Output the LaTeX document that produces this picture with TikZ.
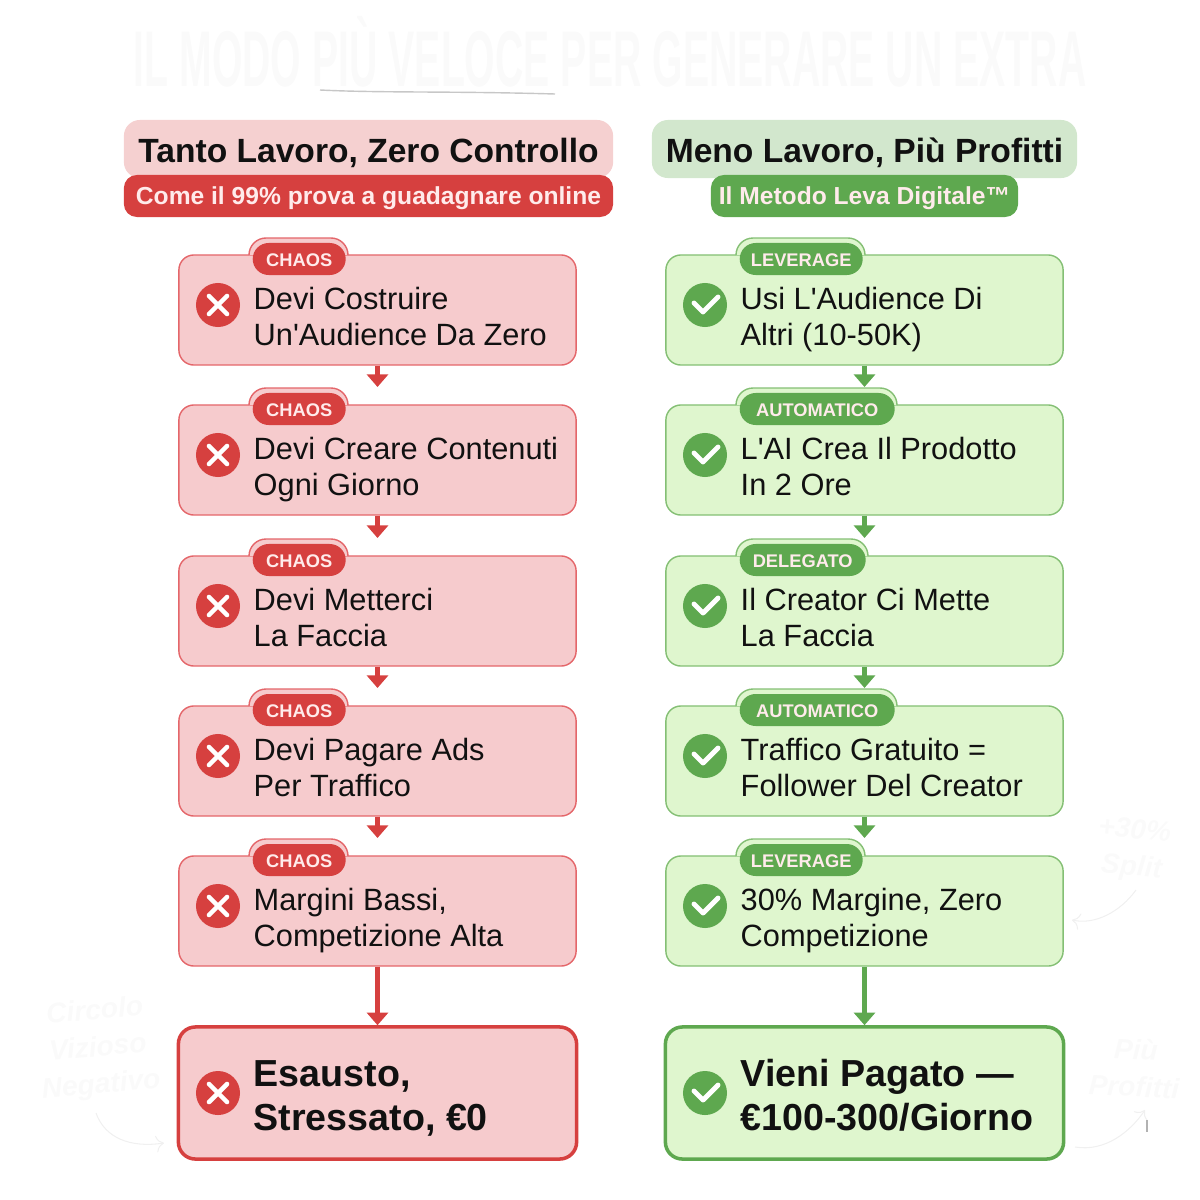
\documentclass[tikz,border=0pt]{standalone}
\usepackage{fontspec}
\setmainfont{Liberation Sans}
\usetikzlibrary{calc, arrows.meta}

\definecolor{redstrong}{HTML}{D6403F}
\definecolor{redline}{HTML}{E4666A}
\definecolor{redfill}{HTML}{F6CBCD}
\definecolor{redhead}{HTML}{F5D0D0}
\definecolor{greenstrong}{HTML}{5EA84F}
\definecolor{greenline}{HTML}{84BF74}
\definecolor{greenfill}{HTML}{DFF6CE}
\definecolor{greenhead}{HTML}{D2E7CD}
\definecolor{ink}{HTML}{111111}

\tikzset{
  cardbox/.style={rectangle, rounded corners=0.15cm, minimum width=3.97cm, minimum height=1.10cm, line width=0.4pt},
  endbox/.style={rectangle, rounded corners=0.17cm, minimum width=3.98cm, minimum height=1.32cm, line width=1pt},
  tagpill/.style={rectangle, rounded corners=0.16cm, minimum height=0.32cm, inner sep=0pt, text height=4.7pt, text depth=0.7pt, font=\fontsize{5.2}{6}\selectfont\bfseries, text=white!92!red},
  steptext/.style={anchor=west, align=left, inner sep=0pt, text=ink, font=\fontsize{8.75}{10.25}\selectfont},
  endtext/.style={anchor=west, align=left, inner sep=0pt, text=ink, font=\fontsize{10.7}{12.5}\selectfont\bfseries},
  headbar/.style={rectangle, rounded corners=0.16cm, minimum height=0.58cm, inner sep=0pt, text height=9.5pt, text depth=2.1pt, text=ink, font=\fontsize{9.55}{10}\selectfont\bfseries},
  subbar/.style={rectangle, rounded corners=0.13cm, minimum height=0.42cm, inner sep=0pt, text height=6pt, text depth=1.4pt, text=white!92!red, font=\fontsize{7}{7.5}\selectfont\bfseries},
  crossicon/.style={circle, minimum size=0.44cm, inner sep=0pt, fill=redstrong, path picture={
    \draw[white, line width=1.3pt, line cap=round] (path picture bounding box.center) ++(-9,-9) -- ++(18,18) ++(-18,0) -- ++(18,-18);}},
  checkicon/.style={circle, minimum size=0.44cm, inner sep=0pt, fill=greenstrong, path picture={
    \draw[white, line width=1.4pt, line cap=round, line join=round] (path picture bounding box.center) ++(-11,-2) -- ++(9,9) -- ++(15,-15);}},
  stepflow/.style={line width=1.3pt, -{Triangle[width=6pt, length=3.6pt]}},
  ghost/.style={text=black!2, font=\fontsize{8}{10.5}\selectfont\bfseries\itshape, align=center},
  ghostline/.style={black!6, line width=0.3pt}
}

% #1 colour, #2 name, #3 #4 top left of the card, #5 tag, #6 tag width, #7 icon, #8 text
\newcommand{\stepcard}[8]{
  \node[cardbox, draw=#1line, fill=#1fill] (#2) at (#3+198.5,#4+55) {};
  \draw[draw=#1line, fill=#1fill, line width=0.4pt, rounded corners=0.17cm] (#3+70,#4) -- (#3+70,#4-17) -- (#3+#6+76,#4-17) -- (#3+#6+76,#4);
  \node[tagpill, fill=#1strong, minimum width=#6*0.01cm, anchor=west] (#2tag) at (#3+73,#4+4) {#5};
  \node[#7] (#2icon) at (#3+39,#4+50) {};
  \node[steptext] (#2text) at (#3+74,#4+65) {\strut #8\strut};
  \coordinate (#2tip) at (#3+198.5,#4-18);
}

\begin{document}
\begin{tikzpicture}[x=0.01cm, y=-0.01cm]
  \useasboundingbox (0,0) rectangle (1200,1200);

  % faint title
  \node[text=black!2, inner sep=0pt, font=\fontsize{18}{18}\selectfont\bfseries] (title) at (610,52) {\scalebox{0.62}[1.25]{IL MODO PIÙ VELOCE PER GENERARE UN EXTRA}};
  \draw[black!22, line width=0.4pt] (320,90) .. controls (380,93) and (450,91) .. (555,94);

  % left column
  \node[headbar, fill=redhead, minimum width=4.89cm] (redtitle) at (368.5,149) {Tanto Lavoro, Zero Controllo};
  \node[subbar, fill=redstrong, minimum width=4.89cm] (redsub) at (368.5,196) {Come il 99\% prova a guadagnare online};
  \stepcard{red}{r1}{179}{255}{CHAOS}{93}{crossicon}{Devi Costruire\\Un\textquotesingle Audience Da Zero}
  \stepcard{red}{r2}{179}{405}{CHAOS}{93}{crossicon}{Devi Creare Contenuti\\Ogni Giorno}
  \stepcard{red}{r3}{179}{556}{CHAOS}{93}{crossicon}{Devi Metterci\\La Faccia}
  \stepcard{red}{r4}{179}{706}{CHAOS}{93}{crossicon}{Devi Pagare Ads\\Per Traffico}
  \stepcard{red}{r5}{179}{856}{CHAOS}{93}{crossicon}{Margini Bassi,\\Competizione Alta}
  \node[endbox, draw=redstrong, fill=redfill] (r6) at (377.5,1093) {};
  \node[crossicon] (r6icon) at (218,1093) {};
  \node[endtext] (r6text) at (253,1100) {\strut Esausto,\\Stressato, €0\strut};
  \draw[stepflow, redstrong] (r1.south) -- (r2tip);
  \draw[stepflow, redstrong] (r2.south) -- (r3tip);
  \draw[stepflow, redstrong] (r3.south) -- (r4tip);
  \draw[stepflow, redstrong] (r4.south) -- (r5tip);
  \draw[stepflow, redstrong] (r5.south) -- (r6.north);

  % right column
  \node[headbar, fill=greenhead, minimum width=4.25cm] (greentitle) at (864.5,149) {Meno Lavoro, Più Profitti};
  \node[subbar, fill=greenstrong, minimum width=3.07cm] (greensub) at (864.5,196) {Il Metodo Leva Digitale™};
  \stepcard{green}{g1}{666}{255}{LEVERAGE}{123}{checkicon}{Usi L\textquotesingle Audience Di\\Altri (10-50K)}
  \stepcard{green}{g2}{666}{405}{AUTOMATICO}{155}{checkicon}{L\textquotesingle AI Crea Il Prodotto\\In 2 Ore}
  \stepcard{green}{g3}{666}{556}{DELEGATO}{126}{checkicon}{Il Creator Ci Mette\\La Faccia}
  \stepcard{green}{g4}{666}{706}{AUTOMATICO}{155}{checkicon}{Traffico Gratuito =\\Follower Del Creator}
  \stepcard{green}{g5}{666}{856}{LEVERAGE}{123}{checkicon}{30\% Margine, Zero\\Competizione}
  \node[endbox, draw=greenstrong, fill=greenfill] (g6) at (864.5,1093) {};
  \node[checkicon] (g6icon) at (705,1093) {};
  \node[endtext] (g6text) at (740,1100) {\strut Vieni Pagato —\\€100-300/Giorno\strut};
  \draw[stepflow, greenstrong] (g1.south) -- (g2tip);
  \draw[stepflow, greenstrong] (g2.south) -- (g3tip);
  \draw[stepflow, greenstrong] (g3.south) -- (g4tip);
  \draw[stepflow, greenstrong] (g4.south) -- (g5tip);
  \draw[stepflow, greenstrong] (g5.south) -- (g6.north);

  % faint side notes
  \node[ghost, rotate=5] (leftnote) at (98,1049) {Circolo\\Vizioso\\Negativo};
  \coordinate (leftnotestart) at (96,1113);
  \coordinate (leftnoteend) at (164,1143);
  \draw[ghostline, ->] (leftnotestart) .. controls (105,1138) and (130,1148) .. (leftnoteend);
  \node[ghost, rotate=-5] (splitnote) at (1133,850) {+30\%\\Split};
  \coordinate (splitnotestart) at (1136,890);
  \coordinate (splitnoteend) at (1072,920);
  \draw[ghostline, ->] (splitnotestart) .. controls (1120,912) and (1095,925) .. (splitnoteend);
  \node[ghost, rotate=-3] (profitnote) at (1135,1068) {Più\\Profitti};
  \coordinate (profitnotestart) at (1075,1147);
  \coordinate (profitnoteend) at (1145,1110);
  \draw[ghostline, ->] (profitnotestart) .. controls (1105,1152) and (1130,1132) .. (profitnoteend);
  \draw[black!30, line width=0.3pt] (1147,1120) -- (1147,1132);
\end{tikzpicture}
\end{document}
